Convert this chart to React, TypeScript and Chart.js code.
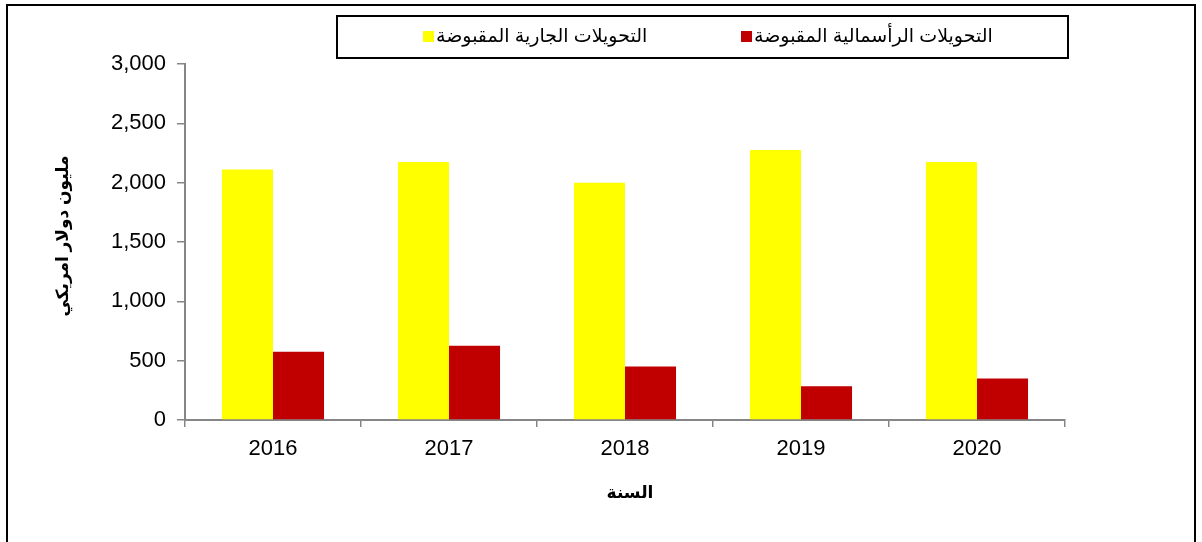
import React, { useEffect, useRef } from "react";
import { Chart, registerables } from "chart.js";

Chart.register(...registerables);

const years = ["2016", "2017", "2018", "2019", "2020"];
const currentTransfers = [2110, 2175, 2000, 2275, 2175];
const capitalTransfers = [575, 625, 450, 285, 350];
const seriesNames = ["التحويلات الجارية المقبوضة", "التحويلات الرأسمالية المقبوضة"];
const seriesColors = ["#FFFF00", "#C00000"];
const xTitle = "السنة";
const yTitle = "مليون دولار امريكي";
const yTicks = { min: 0, max: 3000, step: 500 };

const FONT = "'Liberation Sans', Arial, 'DejaVu Sans', sans-serif";

const decorPlugin = {
  id: "decor",
  beforeDraw(chart: any) {
    const { ctx, width, height } = chart;
    ctx.save();
    ctx.fillStyle = "#ffffff";
    ctx.fillRect(0, 0, width, height);
    ctx.restore();
  },
  afterDraw(chart: any) {
    const { ctx } = chart;
    ctx.save();
    // outer frame
    ctx.strokeStyle = "#000000";
    ctx.lineWidth = 2;
    ctx.strokeRect(7, 5, 1188, 600);
    // legend box
    ctx.lineWidth = 2;
    ctx.strokeRect(337, 16, 731, 42);
    // legend items
    const items = [
      { x: 423, text: chart.data.datasets[0].label, color: chart.data.datasets[0].backgroundColor },
      { x: 741, text: chart.data.datasets[1].label, color: chart.data.datasets[1].backgroundColor },
    ];
    ctx.font = `19px ${FONT}`;
    ctx.textBaseline = "middle";
    ctx.textAlign = "left";
    for (const it of items) {
      ctx.fillStyle = it.color;
      ctx.fillRect(it.x, 31, 11, 11);
      ctx.fillStyle = "#000000";
      ctx.fillText(it.text, it.x + 13, 37);
    }
    // axis titles
    ctx.font = `bold 17px ${FONT}`;
    ctx.textAlign = "center";
    ctx.fillText(xTitle, 630, 493);
    ctx.translate(63, 236);
    ctx.rotate(-Math.PI / 2);
    ctx.fillText(yTitle, 0, 0);
    ctx.restore();
  },
};

export default function App() {
  const ref = useRef<HTMLCanvasElement | null>(null);
  useEffect(() => {
    if (!ref.current) return;
    const chart = new Chart(ref.current, {
      type: "bar",
      data: {
        labels: years,
        datasets: [
          {
            label: seriesNames[0],
            data: currentTransfers,
            backgroundColor: seriesColors[0],
            categoryPercentage: 0.58,
            barPercentage: 1,
          },
          {
            label: seriesNames[1],
            data: capitalTransfers,
            backgroundColor: seriesColors[1],
            categoryPercentage: 0.58,
            barPercentage: 1,
          },
        ],
      },
      options: {
        responsive: false,
        animation: false,
        layout: { padding: { left: 0, right: 137, top: 64, bottom: 0 } },
        plugins: {
          legend: { display: false },
          tooltip: { enabled: false },
          title: { display: false },
        },
        scales: {
          x: {
            grid: {
              offset: true,
              drawOnChartArea: false,
              drawTicks: true,
              tickLength: 7,
              color: "#868686",
              lineWidth: 1.5,
            },
            border: { color: "#868686", width: 2 },
            ticks: {
              color: "#000000",
              font: { family: FONT, size: 22 },
              padding: 9,
            },
            afterFit(s: any) {
              s.height = 122;
            },
          },
          y: {
            min: yTicks.min,
            max: yTicks.max,
            grid: {
              drawOnChartArea: false,
              drawTicks: true,
              tickLength: 8,
              color: "#868686",
              lineWidth: 1.5,
            },
            border: { color: "#868686", width: 2 },
            ticks: {
              stepSize: yTicks.step,
              color: "#000000",
              font: { family: FONT, size: 22 },
              padding: 11,
              callback: (v: any) => Number(v).toLocaleString("en-US"),
            },
            afterFit(s: any) {
              s.width = 185;
            },
          },
        },
      },
      plugins: [decorPlugin],
    });
    return () => chart.destroy();
  }, []);
  return (
    <div style={{ position: "absolute", left: 0, top: 0, width: 1202, height: 542, background: "#fff" }}>
      <canvas ref={ref} width={1202} height={542} style={{ display: "block" }} />
    </div>
  );
}
